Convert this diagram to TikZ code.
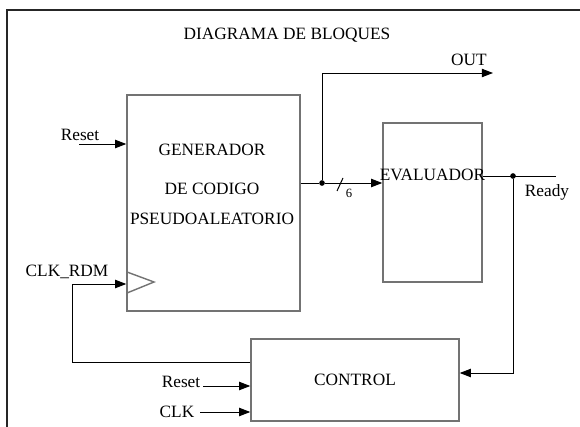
\documentclass[tikz,border=0pt]{standalone}
\usepackage{fontspec}
\setmainfont{Liberation Serif}
\usetikzlibrary{arrows.meta,calc}
\tikzset{
  blk/.style={draw=gray!90!black, line width=1pt, inner sep=0pt, font=\fontsize{12.3}{14}\selectfont},
  sig/.style={draw=black, line width=0.7pt},
  arr/.style={sig, -{Triangle[length=8pt,width=6pt]}},
  lbl/.style={inner sep=0pt, font=\fontsize{12.3}{14}\selectfont},
  junct/.style={circle, fill=black, inner sep=0pt, minimum size=4pt}
}
\begin{document}
\begin{tikzpicture}[x=0.025cm, y=-0.025cm]
  \useasboundingbox (0,0) rectangle (580,427);
  \fill[white] (0,0) rectangle (580,427);
  % outer frame, only top and left edges on the page
  \begin{scope}
    \clip (0,0) rectangle (580,427);
    \draw[line width=1.4pt, black!85] (7,10) rectangle (620,460);
  \end{scope}
  \node[lbl] (title) at (287,35) {DIAGRAMA DE BLOQUES};
  % blocks
  \node[blk, minimum width=4.325cm, minimum height=5.4cm] (gen) at (213.5,203) {};
  \node[lbl, align=center] (gentxt) at (212,184.5) {GENERADOR\\[14pt]DE CODIGO\\[7.5pt]PSEUDOALEATORIO};
  \draw[gray!90!black, line width=1pt] (127,272) -- (154,282) -- (127,293);
  \node[blk, minimum width=2.475cm, minimum height=3.975cm] (eval) at (432.5,202.5) {};
  \node[lbl] (evaltxt) at (432.5,175) {EVALUADOR};
  \node[blk, minimum width=5.2cm, minimum height=2.05cm] (ctrl) at (355,380) {CONTROL};
  % inputs of the generator
  \node[lbl] (rst1) at (80,135) {Reset};
  \coordinate (rst1a) at (79,144);
  \draw[arr] (rst1a) -- (rst1a -| gen.west);
  \node[lbl] (clkrdm) at (67,272) {CLK\_RDM};
  \coordinate (fb) at (72,362);
  \coordinate (ck) at (72,284);
  \draw[arr] (fb -| ctrl.west) -- (fb) -- (ck) -- (ck -| gen.west);
  % 6 bit bus and OUT
  \node[junct] (j1) at (322,183) {};
  \draw[sig] (gen.east |- j1) -- (j1);
  \draw[arr] (j1) -- (j1 -| eval.west);
  \draw[sig] (337,191) -- (343,178);
  \node[inner sep=0pt, font=\fontsize{9}{10}\selectfont] (bw) at (349,193) {6};
  \coordinate (outend) at (493,73);
  \draw[arr] (j1) |- (outend);
  \node[lbl] (out) at (469,60) {OUT};
  % Ready back to control
  \node[junct] (j2) at (513,176) {};
  \coordinate (rdy) at (556,176);
  \draw[sig] (j2 -| eval.east) -- (rdy);
  \node[lbl] (ready) at (547,192) {Ready};
  \draw[arr] (j2) |- ($(ctrl.east)+(0,-7)$);
  % inputs of the control
  \node[lbl] (rst2) at (181,382) {Reset};
  \coordinate (rst2a) at (203,386);
  \draw[arr] (rst2a) -- (rst2a -| ctrl.west);
  \node[lbl] (clk) at (177,412) {CLK};
  \coordinate (clka) at (200,412);
  \draw[arr] (clka) -- (clka -| ctrl.west);
\end{tikzpicture}
\end{document}
